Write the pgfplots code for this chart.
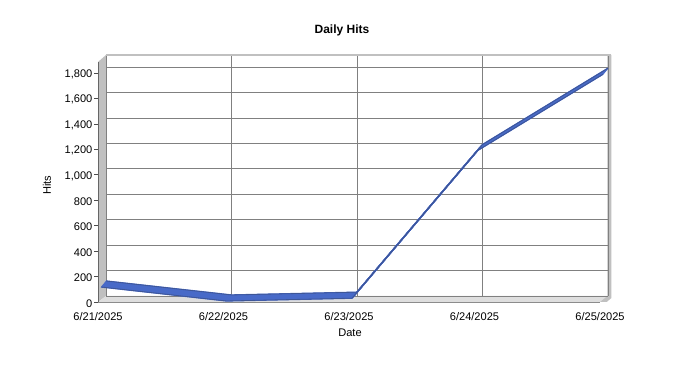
\documentclass[border=0pt]{standalone}
\usepackage{pgfplots}
\pgfplotsset{compat=1.18}
\usepackage{fontspec}
\setmainfont{Liberation Sans}
\definecolor{ribbon}{RGB}{72,106,200}
\definecolor{ribbonedge}{RGB}{62,86,150}
\definecolor{wallgray}{RGB}{192,192,192}
\definecolor{floorgray}{RGB}{222,222,222}
\definecolor{gridgray}{RGB}{128,128,128}
\begin{document}
\begin{tikzpicture}
\pgfplotstableread{
x y
0 118
1 8
2 30
3 1190
4 1790
}\hits
\path[use as bounding box, fill=white] (0,0) rectangle (523.5pt,280.5pt);
% left wall
\fill[wallgray] (79.5pt,58.5pt) -- (79.5pt,239.25pt) -- (73.5pt,234pt) -- (73.5pt,54pt) -- cycle;
% floor
\fill[floorgray] (73.5pt,54pt) -- (450pt,54pt) -- (456pt,58.5pt) -- (79.5pt,58.5pt) -- cycle;
% right edge
\fill[wallgray] (455.5pt,58.5pt) -- (455.5pt,239.25pt) -- (458.5pt,239.25pt) -- (458.5pt,57pt) -- (455pt,54pt) -- (450pt,54pt) -- cycle;
% top edge
\draw[wallgray, line width=1pt] (79.5pt,239.25pt) -- (458.5pt,239.25pt);
\begin{axis}[
  at={(79.5pt,58.5pt)}, anchor=south west,
  scale only axis, width=376.5pt, height=180pt,
  xmin=0, xmax=4, ymin=0, ymax=1886,
  axis line style={draw=none},
  xtick={0,1,2,3,4},
  xticklabels={6/21/2025,6/22/2025,6/23/2025,6/24/2025,6/25/2025},
  ytick={0,200,...,1800},
  ytick pos=left, xtick pos=bottom,
  grid=major,
  major grid style={draw=gridgray, line width=0.5pt},
  tick align=outside,
  major tick length=3pt,
  every tick/.style={draw=black!70},
  every major tick/.append style={xshift=-6pt, yshift=-4.5pt},
  xtick style={draw=none},
  ticklabel style={font=\fontsize{8.3}{10}\selectfont},
  /pgf/number format/assume math mode=true,
  /pgf/number format/1000 sep={,},
  yticklabel style={anchor=east, inner sep=0pt, xshift=-7pt, yshift=-5.5pt},
  xticklabel style={anchor=north, inner sep=0pt, xshift=-6pt, yshift=-9pt},
  title={Daily Hits},
  title style={font=\fontsize{9}{11}\selectfont\bfseries, anchor=base, at={(axis description cs:0.47,1)}, yshift=11pt},
  ylabel={Hits},
  ylabel style={font=\fontsize{8.3}{10}\selectfont, at={(axis description cs:-0.1175,0.4625)}, anchor=center},
  xlabel={Date},
  xlabel style={font=\fontsize{8.3}{10}\selectfont, at={(axis description cs:0.486,-0.154)}, anchor=center},
  clip=false,
]
\pgfplotsinvokeforeach{0,1,2,3,4,5,6,7,8}{
  \addplot[ribbon, line width=1pt, xshift=-#1*0.47pt, yshift=-#1*0.5625pt] table[x=x,y=y] {\hits};
}
\addplot[ribbonedge, line width=0.6pt] table[x=x,y=y] {\hits};
\addplot[ribbonedge, line width=0.6pt, xshift=-3.75pt, yshift=-4.5pt] table[x=x,y=y] {\hits};
\end{axis}
% front axis lines
\draw[black!60, line width=0.6pt] (73.5pt,54pt) -- (73.5pt,234pt);
\draw[black!45, line width=0.6pt] (73.5pt,54pt) -- (450pt,54pt);
\end{tikzpicture}
\end{document}
